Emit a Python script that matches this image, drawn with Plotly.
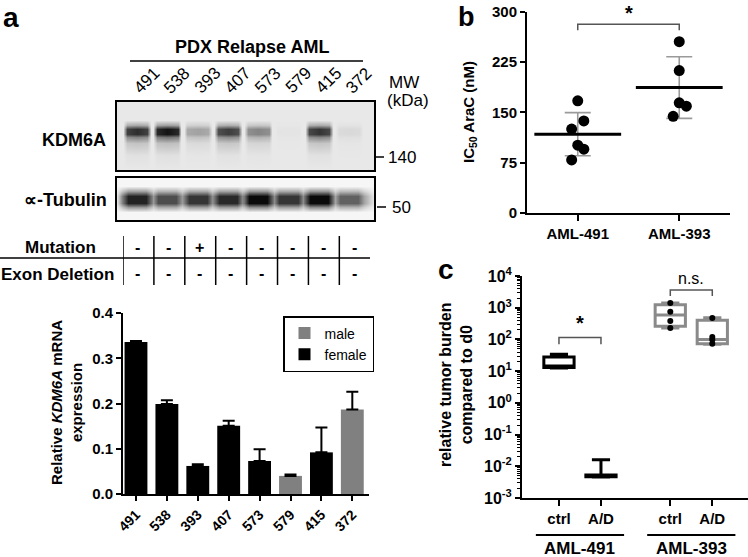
import numpy as np
import plotly.graph_objects as go

W, H = 748, 557
def X(px): return px / W
def Y(py): return 1 - py / H

FONT = "Liberation Sans, Arial, Helvetica, sans-serif"

# ---------------- Panel a data ----------------
lanes = ["491", "538", "393", "407", "573", "579", "415", "372"]
kdm6a_band = [0.85, 0.97, 0.32, 0.78, 0.45, 0.02, 0.82, 0.07]
tubulin_band = [0.88, 0.70, 0.80, 0.85, 0.98, 0.80, 0.98, 0.62]
mutation = ["-", "-", "+", "-", "-", "-", "-", "-"]
exon_deletion = ["-", "-", "-", "-", "-", "-", "-", "-"]
sex = ["female", "female", "female", "female", "female", "male", "female", "male"]
mrna = [0.336, 0.199, 0.062, 0.151, 0.073, 0.040, 0.092, 0.187]
mrna_err = [0.002, 0.008, 0.004, 0.011, 0.026, 0.003, 0.055, 0.039]
mw_labels = ["140", "50"]

# ---------------- Panel b data ----------------
b_groups = ["AML-491", "AML-393"]
b_491 = [167, 137, 125, 101, 95, 79]
b_393 = [255, 212, 164, 159, 144]
b_jit_491 = [0, 0.06, -0.06, 0, 0.06, -0.06]
b_jit_393 = [0, 0, 0, 0.07, -0.06]
b_sig = [272, 281]

# ---------------- Panel c data ----------------
c_ticks = ["ctrl", "A/D", "ctrl", "A/D"]
c_pos = [0, 1, 2.65, 3.65]
c_groups = ["AML-491", "AML-393"]
c_q1 = [13.0, 0.0047, 260, 73]
c_median = [14.5, 0.0050, 590, 100]
c_q3 = [28.0, 0.0053, 1250, 400]
c_low = [12.5, 0.0046, 230, 70]
c_high = [34.0, 0.016, 1400, 480]
c_pts_393_ctrl = [1400, 740, 380, 230]
c_pts_393_ad = [478, 120, 98, 73]
c_sig_491 = [71, 114]
c_sig_393 = [2350, 3600]

fig = go.Figure()

# ---- Panel a bars ----
sex_colors = {"male": "#808080", "female": "#000000"}
for s in ["male", "female"]:
    idx = [i for i, v in enumerate(sex) if v == s]
    fig.add_trace(go.Bar(
        x=idx, y=[mrna[i] for i in idx], width=0.74, name=s,
        marker=dict(color=sex_colors[s], line=dict(width=0)),
        error_y=dict(type="data", array=[mrna_err[i] for i in idx],
                     arrayminus=[0] * len(idx), symmetric=False,
                     color="black", thickness=2, width=6),
        xaxis="x", yaxis="y", hoverinfo="skip"))

# ---- Blots (soft bands rendered as smoothed heatmaps of the lane intensities) ----
def blot_grid(intens, col_prof, col_off, row_y, row_prof, xlo, xhi):
    xs, cols = [xlo], [0.0]
    for i, v in enumerate(intens):
        for off, p in zip(col_off, col_prof):
            xs.append(i + off)
            cols.append(v * p)
    xs.append(xhi)
    cols.append(0.0)
    z = [[r * c for c in cols] for r in row_prof]
    return xs, row_y, z

kx, ky, kz = blot_grid(kdm6a_band, [0.0, 0.9, 1.0, 0.9, 0.0], [-0.46, -0.34, 0.0, 0.34, 0.46],
                       [0.0, 0.22, 0.40, 0.48, 0.53, 0.60, 0.66, 0.73, 1.0],
                       [0.0, 0.04, 0.20, 0.55, 1.0, 1.0, 0.35, 0.0, 0.0], -0.7, 7.9)
fig.add_trace(go.Heatmap(x=kx, y=ky, z=kz, zmin=0, zmax=1, zsmooth="best", showscale=False,
                         colorscale=[[0, "#e8e8e8"], [1, "#0d0d0d"]], hoverinfo="skip",
                         xaxis="x4", yaxis="y4"))
tx, ty, tz = blot_grid(tubulin_band, [0.55, 1.0, 1.0, 1.0, 0.55], [-0.48, -0.3, 0.0, 0.3, 0.48],
                       [0.0, 0.18, 0.30, 0.40, 0.58, 0.68, 0.80, 1.0],
                       [0.0, 0.0, 0.45, 1.0, 1.0, 0.4, 0.0, 0.0], -0.7, 7.9)
fig.add_trace(go.Heatmap(x=tx, y=ty, z=tz, zmin=0, zmax=1, zsmooth="best", showscale=False,
                         colorscale=[[0, "#f6f6f6"], [1, "#050505"]], hoverinfo="skip",
                         xaxis="x5", yaxis="y5"))

# ---- Panel b ----
means = [float(np.mean(b_491)), float(np.mean(b_393))]
sds = [float(np.std(b_491, ddof=1)), float(np.std(b_393, ddof=1))]
fig.add_trace(go.Scatter(x=[0, 1], y=means, mode="markers",
                         marker=dict(size=1, color="rgba(0,0,0,0)"),
                         error_y=dict(type="data", array=sds, color="#9a9a9a", thickness=1.6, width=13),
                         xaxis="x2", yaxis="y2", showlegend=False, hoverinfo="skip"))
fig.add_trace(go.Scatter(x=[0 + j for j in b_jit_491] + [1 + j for j in b_jit_393],
                         y=b_491 + b_393, mode="markers",
                         marker=dict(size=11, color="black"),
                         xaxis="x2", yaxis="y2", showlegend=False, hoverinfo="skip"))
fig.add_trace(go.Scatter(x=[0, 1], y=means, mode="markers",
                         marker=dict(symbol="line-ew", size=62, line=dict(width=3, color="black")),
                         xaxis="x2", yaxis="y2", showlegend=False, hoverinfo="skip"))
fig.add_trace(go.Scatter(x=[0, 0, 1, 1], y=[b_sig[0], b_sig[1], b_sig[1], b_sig[0]], mode="lines",
                         line=dict(color="#555555", width=1.5),
                         xaxis="x2", yaxis="y2", showlegend=False, hoverinfo="skip"))

# ---- Panel c ----
for i in range(4):
    col = "black" if i < 2 else "#8a8a8a"
    fig.add_trace(go.Box(x=[c_pos[i]], q1=[c_q1[i]], median=[c_median[i]], q3=[c_q3[i]],
                         lowerfence=[c_low[i]], upperfence=[c_high[i]],
                         width=0.72, whiskerwidth=0.6, fillcolor="white",
                         line=dict(color=col, width=3), boxpoints=False,
                         xaxis="x3", yaxis="y3", showlegend=False, hoverinfo="skip"))
fig.add_trace(go.Scatter(x=[c_pos[2]] * len(c_pts_393_ctrl) + [c_pos[3]] * len(c_pts_393_ad),
                         y=c_pts_393_ctrl + c_pts_393_ad, mode="markers",
                         marker=dict(size=6, color="black"),
                         xaxis="x3", yaxis="y3", showlegend=False, hoverinfo="skip"))
for (a, b), sig in [((c_pos[0], c_pos[1]), c_sig_491), ((c_pos[2], c_pos[3]), c_sig_393)]:
    fig.add_trace(go.Scatter(x=[a, a, b, b], y=[sig[0], sig[1], sig[1], sig[0]], mode="lines",
                             line=dict(color="#555555", width=1.5),
                             xaxis="x3", yaxis="y3", showlegend=False, hoverinfo="skip"))

# ---------------- Layout ----------------
base_ax = dict(showgrid=False, zeroline=False, showline=True, linecolor="black", linewidth=2,
               ticks="outside", tickcolor="black", tickwidth=2, ticklen=5, automargin=False)
blot_ax = dict(showgrid=False, zeroline=False, showline=True, mirror=True, linecolor="black",
               linewidth=2, ticks="", showticklabels=False, automargin=False)

bold = lambda s: dict(family=FONT, size=s, color="black", weight="bold")
norm = lambda s: dict(family=FONT, size=s, color="black")

layout = dict(
    width=W, height=H, template="none",
    margin=dict(l=0, r=0, t=0, b=0), paper_bgcolor="white", plot_bgcolor="rgba(0,0,0,0)",
    barmode="overlay", font=norm(13),
    xaxis=dict(base_ax, domain=[X(123), X(369)], range=[-0.42, 7.54], anchor="y",
               tickvals=list(range(len(lanes))), ticktext=lanes,
               tickangle=-45, tickfont=bold(14)),
    yaxis=dict(base_ax, domain=[Y(494), Y(313)], range=[0, 0.4], anchor="x",
               tickvals=[0, 0.1, 0.2, 0.3, 0.4], tickformat=".1f", tickfont=bold(15)),
    xaxis2=dict(base_ax, domain=[X(527), X(730)], range=[-0.5, 1.5], anchor="y2",
                tickvals=[0, 1], ticktext=b_groups, tickfont=bold(15), ticklen=6),
    yaxis2=dict(base_ax, domain=[Y(213), Y(11.5)], range=[0, 300], anchor="x2",
                tickvals=[0, 75, 150, 225, 300], tickfont=bold(15)),
    xaxis3=dict(base_ax, domain=[X(522), 1.0], range=[-0.88, 4.5], anchor="y3",
                tickvals=c_pos, ticktext=c_ticks, tickfont=bold(15), ticklen=6),
    yaxis3=dict(base_ax, type="log", domain=[Y(498), Y(276)], range=[-3, 4], anchor="x3",
                tickvals=[10.0 ** k for k in range(-3, 5)],
                ticktext=[f"10<sup>{k}</sup>" for k in range(-3, 5)], tickfont=bold(16),
                minor=dict(ticks="outside", ticklen=3, tickwidth=1, tickcolor="black",
                           tickvals=[m * 10.0 ** k for k in range(-3, 4) for m in range(2, 10)])),
    xaxis4=dict(blot_ax, domain=[X(117), X(374)], range=[-0.66, 7.82], anchor="y4"),
    yaxis4=dict(blot_ax, domain=[Y(170), Y(102)], range=[0, 1], anchor="x4"),
    xaxis5=dict(blot_ax, domain=[X(117), X(374)], range=[-0.66, 7.82], anchor="y5"),
    yaxis5=dict(blot_ax, domain=[Y(220), Y(178)], range=[0, 1], anchor="x5"),
    legend=dict(x=X(283), y=Y(316), xanchor="left", yanchor="top", bgcolor="white",
                bordercolor="black", borderwidth=1.5, font=norm(14), traceorder="normal",
                tracegroupgap=2, itemwidth=30),
)
fig.update_layout(**layout)

ann = []
def A(text, x, y, font, xref="paper", yref="paper", xanchor="center", yanchor="middle", angle=0):
    ann.append(dict(text=text, x=x, y=y, xref=xref, yref=yref, xanchor=xanchor, yanchor=yanchor,
                    showarrow=False, font=font, textangle=angle))

# panel letters
A("a", X(1), Y(0), bold(28), xanchor="left", yanchor="top")
A("b", X(456), Y(0), bold(27), xanchor="left", yanchor="top")
A("c", X(436), Y(252), bold(28), xanchor="left", yanchor="top")

# panel a header
A("PDX Relapse AML", X(252), Y(47), bold(18))
for i, lab in enumerate(lanes):
    A(lab, i + 0.33, Y(81), norm(17), xref="x4", angle=-45)
A("MW", X(387), Y(82), norm(17), xanchor="left")
A("(kDa)", X(385), Y(101), norm(17), xanchor="left")
A(mw_labels[0], X(386), Y(157), norm(17), xanchor="left")
A(mw_labels[1], X(390), Y(207), norm(17), xanchor="left")
A("KDM6A", X(108), Y(140), bold(18), xanchor="right")
A("\u221d-Tubulin", X(109), Y(200), bold(18), xanchor="right")

# table
A("Mutation", X(98), Y(248), bold(17), xanchor="right")
A("Exon Deletion", X(116), Y(274), bold(17), xanchor="right")
for i in range(len(lanes)):
    A(mutation[i], i + 0.06, Y(248), bold(16), xref="x")
    A(exon_deletion[i], i + 0.06, Y(273), bold(16), xref="x")

# axis titles
A("Relative <i>KDM6A</i> mRNA<br>expression", X(66), Y(403), bold(15), angle=-90)
A("IC<sub>50</sub> AraC (nM)", X(469), Y(112), bold(15), angle=-90)
A("relative tumor burden<br>compared to d0", X(456), Y(385), bold(16), angle=-90)

# significance
A("*", 0.5, b_sig[1] - 2, bold(20), xref="x2", yref="y2", yanchor="bottom")
A("*", (c_pos[0] + c_pos[1]) / 2, np.log10(c_sig_491[1]) + 0.05, bold(20), xref="x3", yref="y3", yanchor="bottom")
A("n.s.", (c_pos[2] + c_pos[3]) / 2, np.log10(c_sig_393[1]) + 0.03, norm(16), xref="x3", yref="y3", yanchor="bottom")

# group labels panel c
centers = [(c_pos[0] + c_pos[1]) / 2, (c_pos[2] + c_pos[3]) / 2]
for g, cx in zip(c_groups, centers):
    A(g, cx, Y(548), bold(17), xref="x3")

shapes = []
# header underline
shapes.append(dict(type="line", xref="paper", yref="paper", x0=X(130), x1=X(363), y0=Y(61), y1=Y(61),
                   line=dict(color="black", width=1.5)))
# MW ticks
shapes.append(dict(type="line", xref="paper", yref="paper", x0=X(375), x1=X(384), y0=Y(157), y1=Y(157),
                   line=dict(color="black", width=1.5)))
shapes.append(dict(type="line", xref="paper", yref="paper", x0=X(377), x1=X(386), y0=Y(207), y1=Y(207),
                   line=dict(color="black", width=1.5)))
# table lines
for k in range(len(lanes) + 1):
    shapes.append(dict(type="line", xref="x", yref="paper", x0=k - 0.42, x1=k - 0.42, y0=Y(285), y1=Y(236),
                       line=dict(color="black", width=1.5)))
shapes.append(dict(type="line", xref="paper", yref="paper", x0=0, x1=X(370), y0=Y(258), y1=Y(258),
                   line=dict(color="black", width=1.5)))
# group underline panel c
for cx in centers:
    shapes.append(dict(type="line", xref="x3", yref="paper", x0=cx - 1.05, x1=cx + 1.05, y0=Y(535), y1=Y(535),
                       line=dict(color="black", width=2)))

fig.update_layout(annotations=ann, shapes=shapes)
fig.write_html("out.html", config=dict(displayModeBar=False),
               post_script="document.body.style.margin='0px';document.body.style.overflow='hidden';")
